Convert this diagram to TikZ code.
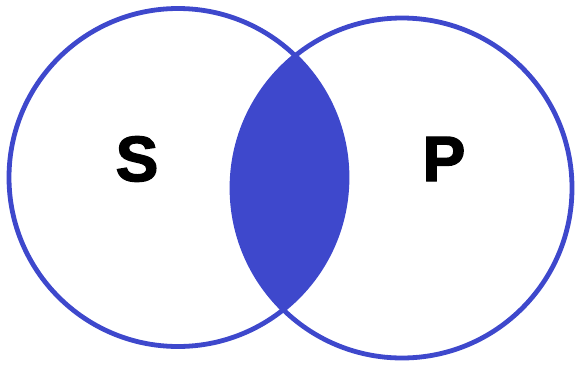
\documentclass[tikz,border=0pt]{standalone}
\usepackage{fontspec}
\setmainfont{Liberation Sans}[BoldFeatures={FakeBold=2.2}]
\definecolor{vblue}{RGB}{62,72,204}
\begin{document}
\begin{tikzpicture}[x=1pt,y=-1pt,
  ring/.style={draw=vblue,line width=4.8pt},
  lbl/.style={font=\fontsize{64}{64}\selectfont\bfseries,text=black,inner sep=0pt}]
\useasboundingbox (0,0) rectangle (577,367);
\coordinate (cs) at (178,177.5);
\coordinate (cp) at (402,188);
\begin{scope}
  \clip (cs) circle [radius=169];
  \fill[vblue] (cp) circle [radius=170];
\end{scope}
\draw[ring] (cs) circle [radius=169];
\draw[ring] (cp) circle [radius=170];
\node[lbl] (S) at (137,159) {S};
\node[lbl] (P) at (444,159) {P};
\end{tikzpicture}
\end{document}
